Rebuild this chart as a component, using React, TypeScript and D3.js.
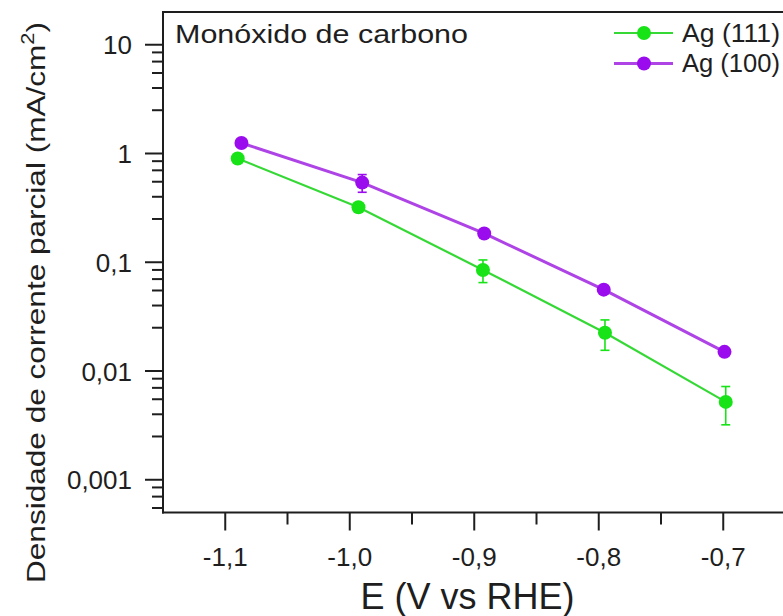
import React from "react";
import * as d3 from "d3";

// Potentials (V vs RHE) and partial current densities (mA/cm²) for CO
const potentialAg111 = [-1.09, -0.993, -0.893, -0.795, -0.698];
const currentAg111 = [0.9, 0.32, 0.085, 0.0225, 0.0052];
const errorAg111 = [0.05, 0.03, 0.02, 0.007, 0.002];

const potentialAg100 = [-1.087, -0.99, -0.892, -0.796, -0.699];
const currentAg100 = [1.25, 0.54, 0.184, 0.056, 0.015];
const errorAg100 = [0.05, 0.1, 0.01, 0.003, 0.001];

const xTickValues = [-1.1, -1.0, -0.9, -0.8, -0.7];
const xTickLabels = ["-1,1", "-1,0", "-0,9", "-0,8", "-0,7"];
const xMinorTicks = [-1.05, -0.95, -0.85, -0.75];

const yTickValues = [10, 1, 0.1, 0.01, 0.001];
const yTickLabels = ["10", "1", "0,1", "0,01", "0,001"];
const yMinorMantissas = [2.5, 4, 5.5, 7, 8.5];

const seriesNames = ["Ag (111)", "Ag (100)"];

const W = 783;
const H = 616;
const plotLeft = 163;
const plotRight = 785.5;
const plotTop = 12;
const plotBottom = 512.5;

const GREEN = "#17e317";
const GREEN_LINE = "#36d836";
const PURPLE = "#9a0cee";
const PURPLE_LINE = "#ae44e6";
const INK = "#1e1e1e";
const FONT = "'Liberation Sans', Arial, sans-serif";

export default function App() {
  const x = d3.scaleLinear().domain([-1.15, -0.65]).range([plotLeft, plotRight]);
  const y = d3.scaleLog().domain([0.0005, 20]).range([plotBottom, plotTop]);

  const yMinor: number[] = [];
  for (let k = -4; k <= 1; k++) {
    for (const m of yMinorMantissas) {
      const v = m * Math.pow(10, k);
      if (v >= 0.0005 && v <= 20) yMinor.push(v);
    }
  }

  const line = d3
    .line<[number, number]>()
    .x((d) => x(d[0]))
    .y((d) => y(d[1]));

  const series = [
    { name: seriesNames[0], xs: potentialAg111, ys: currentAg111, es: errorAg111, fill: GREEN, stroke: GREEN_LINE, lw: 2.2 },
    { name: seriesNames[1], xs: potentialAg100, ys: currentAg100, es: errorAg100, fill: PURPLE, stroke: PURPLE_LINE, lw: 3 },
  ];

  return (
    <svg
      width={W}
      height={H}
      viewBox={`0 0 ${W} ${H}`}
      style={{ position: "fixed", left: 0, top: 0, background: "#fff" }}
      fontFamily={FONT}
    >
      <rect x={0} y={0} width={W} height={H} fill="#fff" />

      {/* series lines, error bars, markers */}
      {series.map((s) => {
        const pts = s.xs.map((v, i) => [v, s.ys[i]] as [number, number]);
        return (
          <g key={s.name}>
            <path d={line(pts) ?? ""} fill="none" stroke={s.stroke} strokeWidth={s.lw} />
            {pts.map((p, i) => {
              const cx = x(p[0]);
              const yTop = y(p[1] + s.es[i]);
              const yBot = y(Math.max(p[1] - s.es[i], 1e-6));
              return (
                <g key={i} stroke={s.fill} strokeWidth={1.6}>
                  <line x1={cx} x2={cx} y1={yTop} y2={yBot} />
                  <line x1={cx - 4.5} x2={cx + 4.5} y1={yTop} y2={yTop} />
                  <line x1={cx - 4.5} x2={cx + 4.5} y1={yBot} y2={yBot} />
                </g>
              );
            })}
            {pts.map((p, i) => (
              <circle key={"m" + i} cx={x(p[0])} cy={y(p[1])} r={7} fill={s.fill} />
            ))}
          </g>
        );
      })}

      {/* frame */}
      <line x1={plotLeft} x2={plotRight} y1={plotTop} y2={plotTop} stroke={INK} strokeWidth={2} />
      <line x1={plotRight} x2={plotRight} y1={plotTop} y2={plotBottom} stroke={INK} strokeWidth={2} />
      <line x1={plotLeft} x2={plotLeft} y1={plotTop - 1} y2={plotBottom + 1} stroke={INK} strokeWidth={2} />
      <line x1={plotLeft - 1} x2={plotRight} y1={plotBottom} y2={plotBottom} stroke={INK} strokeWidth={2} />

      {/* x ticks */}
      {xTickValues.map((v, i) => (
        <g key={"xt" + i}>
          <line x1={x(v)} x2={x(v)} y1={plotBottom} y2={plotBottom + 18} stroke={INK} strokeWidth={2} />
          <text x={x(v)} y={566} textAnchor="middle" fontSize={26} fill={INK}>
            {xTickLabels[i]}
          </text>
        </g>
      ))}
      {xMinorTicks.map((v, i) => (
        <line key={"xm" + i} x1={x(v)} x2={x(v)} y1={plotBottom} y2={plotBottom + 12} stroke={INK} strokeWidth={2} />
      ))}

      {/* y ticks */}
      {yTickValues.map((v, i) => (
        <g key={"yt" + i}>
          <line x1={plotLeft - 18} x2={plotLeft} y1={y(v)} y2={y(v)} stroke={INK} strokeWidth={2} />
          <text x={132} y={y(v) + 9.5} textAnchor="end" fontSize={26} fill={INK}>
            {yTickLabels[i]}
          </text>
        </g>
      ))}
      {yMinor.map((v, i) => (
        <line key={"ym" + i} x1={plotLeft - 11} x2={plotLeft} y1={y(v)} y2={y(v)} stroke={INK} strokeWidth={2} />
      ))}

      {/* panel title */}
      <text x={175} y={43} fontSize={26} fill={INK} textLength={293} lengthAdjust="spacingAndGlyphs">
        Monóxido de carbono
      </text>

      {/* legend */}
      {series.map((s, i) => {
        const ly = 33 + i * 30.5;
        return (
          <g key={"lg" + i}>
            <line x1={614} x2={673} y1={ly} y2={ly} stroke={s.stroke} strokeWidth={s.lw} />
            <circle cx={644} cy={ly} r={7} fill={s.fill} />
            <text x={682} y={ly + 8.5} fontSize={25} fill={INK} textLength={98} lengthAdjust="spacingAndGlyphs">
              {s.name}
            </text>
          </g>
        );
      })}

      {/* axis titles */}
      <text x={467.5} y={609} textAnchor="middle" fontSize={36} fill={INK}>
        E (V vs RHE)
      </text>
      <text
        transform={`translate(45, 302.5) rotate(-90)`}
        textAnchor="middle"
        fontSize={26}
        fill={INK}
        textLength={561}
        lengthAdjust="spacingAndGlyphs"
      >
        Densidade de corrente parcial  (mA/cm
        <tspan dy={-11} fontSize={18}>2</tspan>
        <tspan dy={11}>)</tspan>
      </text>
    </svg>
  );
}
